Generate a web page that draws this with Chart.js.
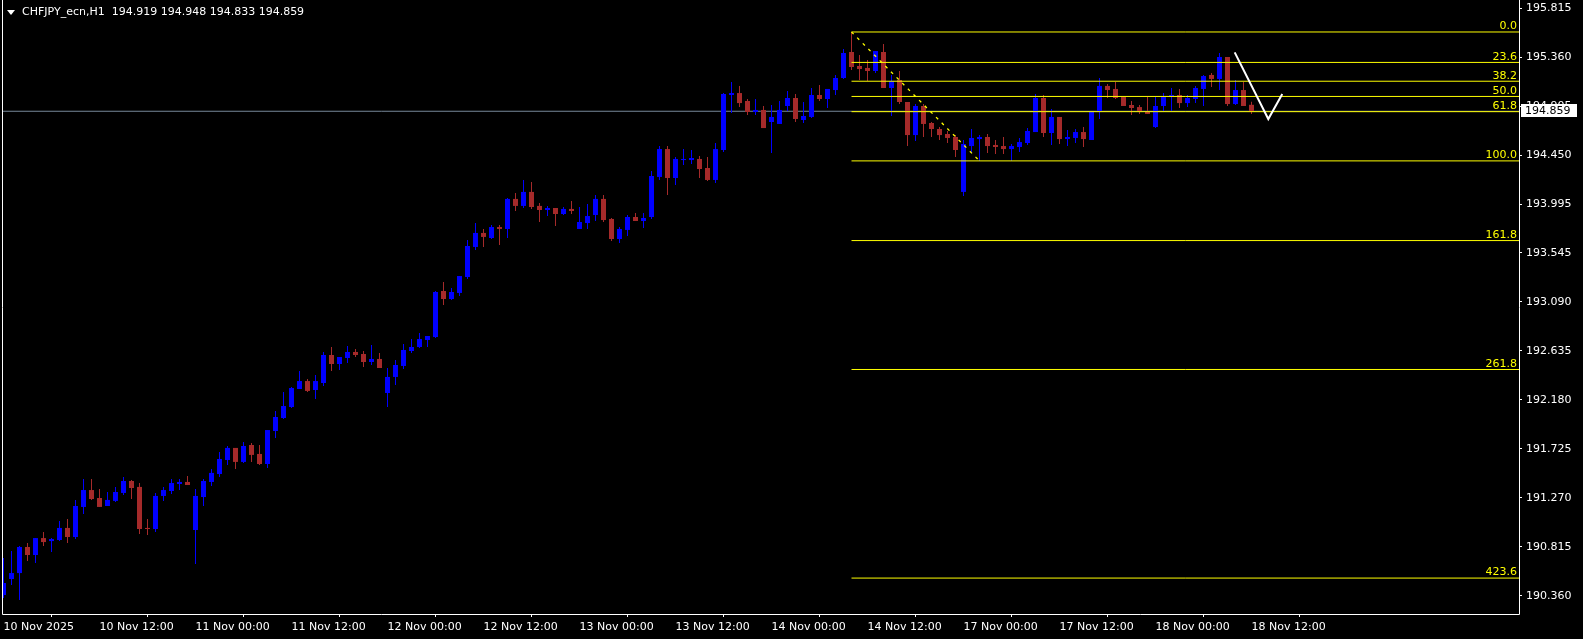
<!DOCTYPE html>
<html>
<head>
<meta charset="utf-8">
<script src="https://cdn.jsdelivr.net/npm/chart.js@4.4.1/dist/chart.umd.min.js"></script>
<style>
html, body { margin: 0; padding: 0; background: #000; overflow: hidden; }
#wrap { position: relative; width: 1583px; height: 639px; }
#tri { position: absolute; left: 7px; top: 10px; width: 0; height: 0;
       border-left: 4px solid transparent; border-right: 4px solid transparent; border-top: 5px solid #fff; }
#header { position: absolute; left: 22px; top: 5px; color: #fff; font: 11px "DejaVu Sans", sans-serif;
          line-height: 13px; white-space: pre; }
</style>
</head>
<body>
<div id="wrap">
  <canvas id="chart" width="1583" height="639"></canvas>
  <div id="tri"></div>
  <div id="header"></div>
</div>
<script>
// CHFJPY H1, one bar per hour from 10 Nov 00:00
const symbol = 'CHFJPY_ecn,H1';

const opens = [
  190.367, 190.516, 190.571, 190.813, 190.739, 190.896, 190.868, 190.878, 190.990, 190.906,
  191.185, 191.342, 191.268, 191.194, 191.241, 191.315, 191.426, 191.371, 190.990, 190.980,
  191.287, 191.333, 191.398, 191.417, 190.971, 191.277, 191.417, 191.491, 191.621, 191.733,
  191.603, 191.760, 191.677, 191.584, 191.890, 192.011, 192.113, 192.280, 192.354, 192.271,
  192.336, 192.596, 192.512, 192.568, 192.624, 192.605, 192.531, 192.559, 192.243, 192.392,
  192.494, 192.633, 192.670, 192.735, 192.763, 193.190, 193.116, 193.172, 193.320, 193.599,
  193.729, 193.682, 193.784, 193.766, 194.045, 193.980, 194.110, 193.980, 193.942, 193.961,
  193.905, 193.952, 193.766, 193.821, 193.896, 194.045, 193.859, 193.673, 193.757, 193.877,
  193.840, 193.877, 194.249, 194.508, 194.239, 194.406, 194.406, 194.416, 194.332, 194.221,
  194.499, 195.010, 195.028, 194.954, 194.852, 194.871, 194.759, 194.741, 194.908, 194.982,
  194.778, 194.806, 195.010, 194.973, 195.056, 195.168, 195.409, 195.279, 195.261, 195.233,
  195.409, 195.075, 195.149, 194.945, 194.638, 194.908, 194.750, 194.694, 194.648, 194.620,
  194.110, 194.536, 194.601, 194.620, 194.546, 194.536, 194.508, 194.527, 194.564, 194.666,
  194.982, 194.657, 194.806, 194.601, 194.611, 194.666, 194.592, 194.861, 195.094, 195.066,
  194.991, 194.917, 194.898, 194.852, 194.713, 194.908, 195.000, 195.010, 194.935, 194.973,
  195.066, 195.196, 195.159, 195.363, 194.926, 195.056, 194.919
];
const highs = [
  190.711, 190.776, 190.822, 190.850, 190.896, 190.952, 190.896, 191.055, 191.074, 191.250,
  191.445, 191.445, 191.352, 191.324, 191.371, 191.463, 191.435, 191.407, 191.074, 191.315,
  191.371, 191.445, 191.445, 191.473, 191.352, 191.445, 191.538, 191.695, 191.751, 191.733,
  191.788, 191.779, 191.760, 191.899, 192.076, 192.252, 192.299, 192.447, 192.373, 192.410,
  192.624, 192.670, 192.577, 192.680, 192.652, 192.633, 192.689, 192.614, 192.475, 192.549,
  192.698, 192.744, 192.800, 192.772, 193.190, 193.274, 193.218, 193.329, 193.664, 193.821,
  193.766, 193.803, 193.803, 194.054, 194.100, 194.221, 194.202, 194.007, 193.980, 193.961,
  193.970, 194.026, 193.970, 193.998, 194.081, 194.081, 193.868, 193.784, 193.896, 193.914,
  193.914, 194.304, 194.536, 194.536, 194.434, 194.508, 194.499, 194.443, 194.434, 194.564,
  195.028, 195.131, 195.094, 194.973, 194.973, 194.908, 194.917, 194.954, 195.047, 195.019,
  194.945, 195.075, 195.103, 195.066, 195.196, 195.437, 195.595, 195.381, 195.335, 195.418,
  195.483, 195.196, 195.233, 194.945, 194.926, 194.926, 194.759, 194.713, 194.676, 194.638,
  194.592, 194.694, 194.638, 194.648, 194.592, 194.620, 194.555, 194.611, 194.703, 195.019,
  195.010, 194.880, 194.806, 194.685, 194.694, 194.713, 194.852, 195.168, 195.112, 195.131,
  194.991, 194.954, 194.917, 194.991, 194.991, 195.028, 195.075, 195.066, 195.010, 195.094,
  195.196, 195.214, 195.400, 195.363, 195.149, 195.131, 194.948
];
const lows = [
  190.339, 190.460, 190.321, 190.683, 190.664, 190.822, 190.767, 190.868, 190.850, 190.887,
  191.120, 191.250, 191.185, 191.194, 191.231, 191.296, 191.259, 190.934, 190.924, 190.952,
  191.241, 191.305, 191.342, 191.389, 190.655, 191.194, 191.380, 191.463, 191.575, 191.538,
  191.593, 191.603, 191.575, 191.547, 191.825, 192.002, 192.104, 192.280, 192.252, 192.187,
  192.308, 192.447, 192.457, 192.522, 192.577, 192.484, 192.503, 192.475, 192.113, 192.317,
  192.466, 192.614, 192.661, 192.670, 192.754, 193.061, 193.107, 193.144, 193.302, 193.571,
  193.599, 193.673, 193.617, 193.682, 193.933, 193.961, 193.952, 193.831, 193.886, 193.794,
  193.896, 193.905, 193.766, 193.766, 193.840, 193.831, 193.655, 193.636, 193.701, 193.840,
  193.775, 193.859, 194.221, 194.081, 194.174, 194.360, 194.369, 194.239, 194.211, 194.193,
  194.481, 194.843, 194.898, 194.824, 194.824, 194.703, 194.471, 194.741, 194.861, 194.759,
  194.750, 194.796, 194.954, 194.889, 195.010, 195.159, 195.242, 195.149, 195.140, 195.214,
  195.075, 194.815, 194.926, 194.536, 194.583, 194.620, 194.620, 194.592, 194.564, 194.434,
  194.072, 194.471, 194.398, 194.471, 194.462, 194.462, 194.397, 194.481, 194.546, 194.666,
  194.620, 194.546, 194.555, 194.536, 194.564, 194.527, 194.592, 194.787, 194.982, 194.973,
  194.908, 194.824, 194.834, 194.834, 194.703, 194.861, 194.861, 194.889, 194.898, 194.935,
  194.908, 195.084, 195.056, 194.908, 194.917, 194.908, 194.833
];
const closes = [
  190.479, 190.571, 190.813, 190.739, 190.896, 190.859, 190.887, 190.990, 190.906, 191.194,
  191.342, 191.259, 191.185, 191.250, 191.324, 191.426, 191.361, 190.980, 190.980, 191.287,
  191.342, 191.407, 191.417, 191.389, 191.287, 191.426, 191.501, 191.630, 191.733, 191.603,
  191.751, 191.668, 191.584, 191.899, 192.020, 192.122, 192.289, 192.354, 192.262, 192.354,
  192.596, 192.512, 192.577, 192.624, 192.596, 192.531, 192.559, 192.475, 192.392, 192.503,
  192.642, 192.670, 192.744, 192.772, 193.181, 193.116, 193.181, 193.329, 193.608, 193.729,
  193.692, 193.784, 193.766, 194.045, 193.980, 194.110, 193.970, 193.942, 193.961, 193.905,
  193.952, 193.933, 193.831, 193.886, 194.045, 193.849, 193.673, 193.766, 193.877, 193.840,
  193.868, 194.258, 194.508, 194.239, 194.416, 194.416, 194.425, 194.323, 194.221, 194.508,
  195.019, 195.028, 194.935, 194.852, 194.871, 194.703, 194.806, 194.871, 194.982, 194.787,
  194.815, 195.010, 194.973, 195.066, 195.168, 195.400, 195.270, 195.251, 195.233, 195.418,
  195.075, 195.140, 194.945, 194.638, 194.908, 194.741, 194.694, 194.638, 194.611, 194.499,
  194.555, 194.611, 194.620, 194.536, 194.527, 194.508, 194.536, 194.573, 194.676, 194.982,
  194.657, 194.806, 194.601, 194.620, 194.666, 194.601, 194.852, 195.094, 195.056, 194.982,
  194.908, 194.889, 194.861, 194.834, 194.908, 194.991, 195.010, 194.935, 194.982, 195.075,
  195.186, 195.159, 195.363, 194.926, 195.056, 194.908, 194.859
];

// time axis labels, one every 12 bars
const timeLabels = [
  '10 Nov 2025', '10 Nov 12:00', '11 Nov 00:00', '11 Nov 12:00', '12 Nov 00:00',
  '12 Nov 12:00', '13 Nov 00:00', '13 Nov 12:00', '14 Nov 00:00', '14 Nov 12:00',
  '17 Nov 00:00', '17 Nov 12:00', '18 Nov 00:00', '18 Nov 12:00'
];
const barsPerLabel = 12;

// price axis labels
const priceTicks = [
  195.815, 195.360, 194.905, 194.450, 193.995, 193.545, 193.090,
  192.635, 192.180, 191.725, 191.270, 190.815, 190.360
];

// fibonacci retracement object
const fibStartIdx = 106;
const fibEndIdx = 122;
const fibHigh = 195.595;
const fibLow = 194.398;
const fibLevels = [0, 23.6, 38.2, 50, 61.8, 100, 161.8, 261.8, 423.6];

// white hand drawn zigzag
const zigX = [153.9, 158.1, 159.85];
const zigY = [195.406, 194.787, 195.019];

// visible window
const xMin = -0.1875, xMax = 189.4375;
const yMin = 190.191, yMax = 195.892;

const bullColor = '#0000ff';
const bearColor = '#a52a2a';
const fibColor = '#ffff00';
const bidColor = '#778899';
const FONT = '"DejaVu Sans", sans-serif';

const last = closes.length - 1;
const bid = closes[last];

document.getElementById('header').textContent =
  symbol + '  ' + [opens[last], highs[last], lows[last], closes[last]].map(v => v.toFixed(3)).join(' ');

const barColors = closes.map((c, i) => c >= opens[i] ? bullColor : bearColor);

const fibPrice = lvl => fibHigh - (fibHigh - fibLow) * lvl / 100;

const datasets = [];

// wicks
datasets.push({
  type: 'bar',
  data: highs.map((h, i) => ({ x: i, y: [lows[i], h] })),
  backgroundColor: barColors,
  barThickness: 1,
  grouped: false,
  inflateAmount: 0,
  borderWidth: 0,
  minBarLength: 1,
  order: 3
});
// bodies
datasets.push({
  type: 'bar',
  data: opens.map((o, i) => ({ x: i, y: [o, closes[i]] })),
  backgroundColor: barColors,
  barThickness: 5,
  grouped: false,
  inflateAmount: 0,
  borderWidth: 0,
  minBarLength: 1,
  order: 2
});
// bid line
datasets.push({
  type: 'line',
  data: [{ x: xMin, y: bid }, { x: xMax, y: bid }],
  borderColor: bidColor,
  borderWidth: 1,
  pointRadius: 0,
  order: 4
});
// fibo levels
fibLevels.forEach(lvl => {
  datasets.push({
    type: 'line',
    data: [{ x: fibStartIdx, y: fibPrice(lvl) }, { x: xMax, y: fibPrice(lvl) }],
    borderColor: fibColor,
    borderWidth: 1,
    pointRadius: 0,
    order: 1
  });
});
// fibo trend line (dashed)
datasets.push({
  type: 'line',
  data: [{ x: fibStartIdx, y: fibHigh }, { x: fibEndIdx, y: fibLow }],
  borderColor: fibColor,
  borderWidth: 1.3,
  borderDash: [3, 5],
  pointRadius: 0,
  order: 1
});
// zigzag
datasets.push({
  type: 'line',
  data: zigX.map((x, i) => ({ x: x, y: zigY[i] })),
  borderColor: '#ffffff',
  borderWidth: 2,
  pointRadius: 0,
  tension: 0,
  order: 0
});

const mtPlugin = {
  id: 'mtDecor',
  afterDatasetsDraw(chart) {
    const { ctx, chartArea: a, scales } = chart;
    ctx.save();
    // frame
    ctx.strokeStyle = '#ffffff';
    ctx.lineWidth = 1;
    ctx.beginPath();
    ctx.moveTo(a.left + 0.5, a.top);
    ctx.lineTo(a.left + 0.5, a.bottom + 0.5);
    ctx.lineTo(a.right + 0.5, a.bottom + 0.5);
    ctx.lineTo(a.right + 0.5, a.top);
    ctx.stroke();
    // fibo labels
    ctx.font = '11px ' + FONT;
    ctx.fillStyle = fibColor;
    ctx.textAlign = 'right';
    ctx.textBaseline = 'bottom';
    fibLevels.forEach(lvl => {
      const y = scales.y.getPixelForValue(fibPrice(lvl));
      ctx.fillText(lvl.toFixed(1), a.right - 2, y);
    });
    ctx.restore();
  },
  afterDraw(chart) {
    const { ctx, chartArea: a, scales } = chart;
    const y = Math.round(scales.y.getPixelForValue(bid));
    ctx.save();
    ctx.fillStyle = '#ffffff';
    ctx.fillRect(a.right + 2, y - 7, 56, 13);
    ctx.fillStyle = '#000000';
    ctx.font = '11px ' + FONT;
    ctx.textAlign = 'left';
    ctx.textBaseline = 'middle';
    ctx.fillText(bid.toFixed(3), a.right + 6, y);
    ctx.restore();
  }
};

new Chart(document.getElementById('chart').getContext('2d'), {
  type: 'bar',
  data: { datasets: datasets },
  options: {
    responsive: false,
    animation: false,
    events: [],
    layout: { padding: { left: 2, top: 0, right: 0, bottom: 0 }, autoPadding: false },
    plugins: { legend: { display: false }, tooltip: { enabled: false } },
    scales: {
      x: {
        type: 'linear',
        min: xMin,
        max: xMax,
        offset: false,
        afterBuildTicks: s => { s.ticks = timeLabels.map((t, k) => ({ value: k * barsPerLabel })); },
        afterFit: s => { s.height = 25; s.paddingLeft = 0; s.paddingRight = 0; },
        grid: { drawOnChartArea: false, tickLength: 3, color: '#ffffff' },
        border: { display: false },
        ticks: {
          color: '#ffffff',
          font: { family: FONT, size: 11 },
          align: 'start',
          maxRotation: 0,
          autoSkip: false,
          padding: 4,
          callback: (v, idx) => timeLabels[idx]
        }
      },
      y: {
        position: 'right',
        min: yMin,
        max: yMax,
        afterBuildTicks: s => { s.ticks = priceTicks.map(v => ({ value: v })); },
        afterFit: s => { s.width = 64; s.paddingTop = 0; s.paddingBottom = 0; },
        grid: { drawOnChartArea: false, tickLength: 3, color: '#ffffff' },
        border: { display: false },
        ticks: {
          color: '#ffffff',
          font: { family: FONT, size: 11 },
          autoSkip: false,
          padding: 4,
          callback: v => v.toFixed(3)
        }
      }
    }
  },
  plugins: [mtPlugin]
});
</script>
</body>
</html>
